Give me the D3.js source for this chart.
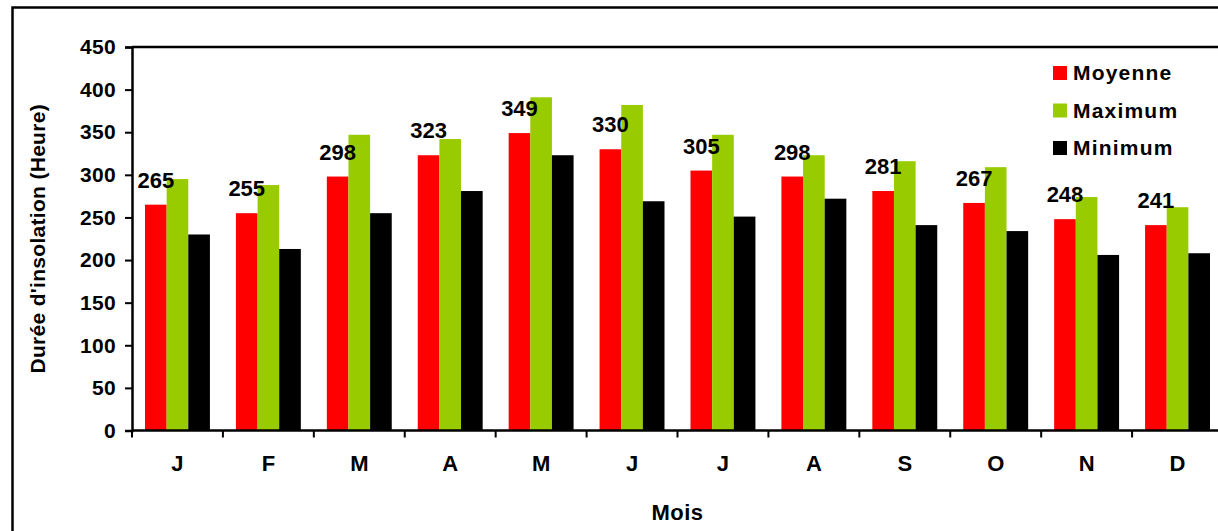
<!DOCTYPE html>
<html><head><meta charset="utf-8">
<script src="https://cdn.jsdelivr.net/npm/d3@7"></script>
<style>
html,body{margin:0;padding:0;background:#fff;overflow:hidden;}
svg{display:block;font-family:"Liberation Sans",Arial,sans-serif;font-weight:bold;}
</style></head>
<body>
<svg id="chart" width="1218" height="531"></svg>
<script>
const months = ["J","F","M","A","M","J","J","A","S","O","N","D"];
const seriesNames = ["Moyenne","Maximum","Minimum"];
const seriesColors = ["#FF0000","#99CC00","#000000"];
const moyenne = [265,255,298,323,349,330,305,298,281,267,248,241];
const maximum = [295,288,347,342,391,382,347,323,316,309,274,262];
const minimum = [230,213,255,281,323,269,251,272,241,234,206,208];
const yTicks = [0,50,100,150,200,250,300,350,400,450];
const yTitle = "Durée d'insolation (Heure)";
const xTitle = "Mois";

const svg = d3.select("#chart");
const pLeft = 132, pRight = 1223, pTop = 47, pBottom = 430.5;

// outer frame (cut off by the viewport on right and bottom)
svg.append("rect").attr("x",12.5).attr("y",7.5).attr("width",1300).attr("height",600)
  .attr("fill","none").attr("stroke","#000").attr("stroke-width",2.5);

const idx = months.map((m,i)=>i);
const x0 = d3.scaleBand().domain(idx).range([pLeft,pRight]).padding(0);
const w = x0.bandwidth();
const x1 = d3.scaleBand().domain([0,1,2]).range([13, w-13]).padding(0);
const y = d3.scaleLinear().domain([0,450]).range([pBottom, pTop]);

const data = [moyenne, maximum, minimum];

// plot area border top
svg.append("line").attr("x1",pLeft).attr("x2",1230).attr("y1",pTop).attr("y2",pTop)
  .attr("stroke","#000").attr("stroke-width",2.5);

// bars
const g = svg.append("g");
idx.forEach(i=>{
  data.forEach((arr,s)=>{
    g.append("rect")
      .attr("x", x0(i)+x1(s))
      .attr("y", y(arr[i]))
      .attr("width", x1.bandwidth())
      .attr("height", y(0)-y(arr[i]))
      .attr("fill", seriesColors[s]);
  });
});

// y axis
const yAxis = d3.axisLeft(y).tickValues(yTicks).tickSize(7).tickPadding(9);
const ya = svg.append("g").attr("transform",`translate(${pLeft},0)`).call(yAxis);
ya.select(".domain").attr("stroke","#000").attr("stroke-width",2.5);
ya.selectAll(".tick line").attr("stroke","#000").attr("stroke-width",2);
ya.selectAll(".tick text").attr("fill","#000").style("font-size","21px")
  .style("font-weight","bold").style("font-family","'Liberation Sans',Arial,sans-serif")
  .attr("letter-spacing","0.3px");

// x axis
const xa = svg.append("g").attr("transform",`translate(0,${pBottom})`);
xa.append("line").attr("x1",pLeft).attr("x2",1230).attr("stroke","#000").attr("stroke-width",2.5);
const xb = d3.scaleLinear().domain([0,12]).range([pLeft,pRight]);
xa.selectAll("line.tk").data(d3.range(0,13)).enter().append("line").attr("class","tk")
  .attr("x1",d=>xb(d)).attr("x2",d=>xb(d)).attr("y1",0).attr("y2",7)
  .attr("stroke","#000").attr("stroke-width",2);
xa.selectAll("text").data(idx).enter().append("text")
  .attr("x",i=>x0(i)+w/2).attr("y",40).attr("text-anchor","middle")
  .style("font-size","22px").text(i=>months[i]);

// data labels for Moyenne
svg.selectAll("text.lbl").data(idx).enter().append("text").attr("class","lbl")
  .attr("x",i=>x0(i)+x1(0)+x1.bandwidth()/2)
  .attr("y",i=>y(moyenne[i])-17)
  .attr("text-anchor","middle").style("font-size","22px")
  .text(i=>moyenne[i]);

// axis titles
svg.append("text").attr("transform",`translate(45,${(pTop+pBottom)/2}) rotate(-90)`)
  .attr("text-anchor","middle").style("font-size","21px").attr("letter-spacing","0.3px").text(yTitle);
svg.append("text").attr("x",(pLeft+pRight)/2).attr("y",520).attr("text-anchor","middle")
  .style("font-size","22px").attr("letter-spacing","0.5px").text(xTitle);

// legend
const lg = svg.append("g");
seriesNames.forEach((n,s)=>{
  const by = 80 + s*37.5;
  lg.append("rect").attr("x",1053).attr("y",by-14).attr("width",14).attr("height",14).attr("fill",seriesColors[s]);
  lg.append("text").attr("x",1073).attr("y",by).style("font-size","21px")
    .attr("letter-spacing","1.2px").text(n);
});
</script>
</body></html>
